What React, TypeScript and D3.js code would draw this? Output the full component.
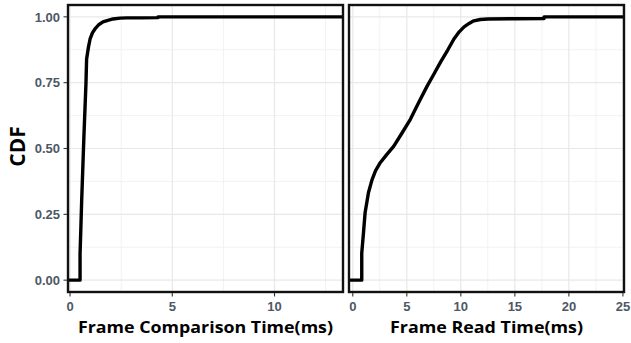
import React, { useEffect, useRef } from 'react';
import * as d3 from 'd3';

// ECDF of frame comparison time (ms)
const cmpTime = [-1, 0.49, 0.49, 0.53, 0.57, 0.68, 0.78, 0.81, 0.9, 0.98, 1.1, 1.22, 1.4, 1.61, 1.85, 2.1, 2.45, 2.78, 3.5, 4.3, 4.3, 14];
const cmpCdf = [0, 0, 0.1, 0.2, 0.305, 0.55, 0.75, 0.84, 0.885, 0.916, 0.94, 0.954, 0.97, 0.981, 0.987, 0.992, 0.995, 0.996, 0.996, 0.997, 1.0, 1.0];

// ECDF of frame read time (ms)
const readTime = [-1, 0.83, 0.83, 0.99, 1.14, 1.45, 1.77, 2.1, 2.54, 3.1, 3.78, 4.5, 5.33, 6.1, 6.88, 7.5, 8.12, 8.8, 9.36, 9.85, 10.3, 10.8, 11.2, 11.8, 12.5, 15, 17.7, 17.7, 26];
const readCdf = [0, 0, 0.103, 0.18, 0.256, 0.332, 0.38, 0.415, 0.446, 0.475, 0.508, 0.555, 0.611, 0.675, 0.737, 0.782, 0.828, 0.875, 0.916, 0.943, 0.962, 0.976, 0.985, 0.99, 0.992, 0.993, 0.994, 1.0, 1.0];

const yTicks = [0, 0.25, 0.5, 0.75, 1];
const yTickLabels = ['0.00', '0.25', '0.50', '0.75', '1.00'];
const cmpTicks = [0, 5, 10];
const readTicks = [0, 5, 10, 15, 20, 25];

const panels = [
  { id: 'cmp', xs: cmpTime, ys: cmpCdf, domain: [-0.1, 13.35], left: 68, right: 343, ticks: cmpTicks, minor: [2.5, 7.5, 12.5], title: 'Frame Comparison Time(ms)', titleW: 255 },
  { id: 'read', xs: readTime, ys: readCdf, domain: [-0.35, 25.1], left: 349, right: 624, ticks: readTicks, minor: [2.5, 7.5, 12.5, 17.5, 22.5], title: 'Frame Read Time(ms)', titleW: 193 },
];

const App = () => {
  const svgRef = useRef<SVGSVGElement>(null);

  useEffect(() => {
    const svg = d3.select(svgRef.current).html('');
    const top = 5, bottom = 292;
    const y = d3.scaleLinear().domain([-0.045, 1.045]).range([bottom, top]);
    const yMinor = [0.125, 0.375, 0.625, 0.875];

    panels.forEach((p, pi) => {
      const x = d3.scaleLinear().domain(p.domain).range([p.left, p.right]);
      const g = svg.append('g');

      g.append('clipPath').attr('id', 'clip-' + p.id)
        .append('rect').attr('x', p.left).attr('y', top)
        .attr('width', p.right - p.left).attr('height', bottom - top);

      g.append('rect').attr('x', p.left).attr('y', top)
        .attr('width', p.right - p.left).attr('height', bottom - top).attr('fill', '#fff');

      // grid
      g.selectAll('.ymin').data(yMinor).enter().append('line')
        .attr('x1', p.left).attr('x2', p.right)
        .attr('y1', d => y(d)).attr('y2', d => y(d))
        .attr('stroke', '#f2f2f2').attr('stroke-width', 1);
      g.selectAll('.xmin').data(p.minor).enter().append('line')
        .attr('x1', d => x(d)).attr('x2', d => x(d))
        .attr('y1', top).attr('y2', bottom)
        .attr('stroke', '#f2f2f2').attr('stroke-width', 1);
      g.selectAll('.ymaj').data(yTicks).enter().append('line')
        .attr('x1', p.left).attr('x2', p.right)
        .attr('y1', d => y(d)).attr('y2', d => y(d))
        .attr('stroke', '#e8e8e8').attr('stroke-width', 1.2);
      g.selectAll('.xmaj').data(p.ticks).enter().append('line')
        .attr('x1', d => x(d)).attr('x2', d => x(d))
        .attr('y1', top).attr('y2', bottom)
        .attr('stroke', '#e8e8e8').attr('stroke-width', 1.2);

      const line = d3.line<number>()
        .x((d, i) => x(p.xs[i]))
        .y(d => y(d));
      g.append('path')
        .attr('clip-path', `url(#clip-${p.id})`)
        .attr('d', line(p.ys))
        .attr('fill', 'none')
        .attr('stroke', '#000')
        .attr('stroke-width', 3.4)
        .attr('stroke-linejoin', 'round');

      g.append('rect').attr('x', p.left).attr('y', top)
        .attr('width', p.right - p.left).attr('height', bottom - top)
        .attr('fill', 'none').attr('stroke', '#111').attr('stroke-width', 2.4);

      // x axis
      const xa = g.selectAll('.xt').data(p.ticks).enter().append('g');
      xa.append('line')
        .attr('x1', d => x(d)).attr('x2', d => x(d))
        .attr('y1', bottom + 1).attr('y2', bottom + 4.5)
        .attr('stroke', '#333').attr('stroke-width', 1.1);
      xa.append('text')
        .attr('x', d => x(d)).attr('y', 311)
        .attr('text-anchor', 'middle')
        .style('font-family', '"Liberation Sans", Arial, sans-serif')
        .style('font-weight', 'bold').style('font-size', '13px')
        .attr('fill', '#4d5866')
        .text(d => d);

      g.append('text')
        .attr('x', (p.left + p.right) / 2).attr('y', 333)
        .attr('text-anchor', 'middle')
        .attr('textLength', p.titleW)
        .attr('lengthAdjust', 'spacingAndGlyphs')
        .style('font-family', '"Open Sans", "Noto Sans", sans-serif')
        .style('font-weight', 'bold').style('font-size', '16.5px')
        .attr('fill', '#000')
        .text(p.title);

      if (pi === 0) {
        const ya = g.selectAll('.yt').data(yTicks).enter().append('g');
        ya.append('line')
          .attr('x1', p.left - 4.5).attr('x2', p.left - 1)
          .attr('y1', d => y(d)).attr('y2', d => y(d))
          .attr('stroke', '#333').attr('stroke-width', 1.1);
        ya.append('text')
          .attr('x', p.left - 8).attr('y', d => y(d)).attr('dy', '0.36em')
          .attr('text-anchor', 'end')
          .style('font-family', '"Liberation Sans", Arial, sans-serif')
          .style('font-weight', 'bold').style('font-size', '13px')
          .attr('fill', '#4d5866')
          .text((d, i) => yTickLabels[i]);
      }
    });

    svg.append('text')
      .attr('transform', 'translate(25,146.5) rotate(-90)')
      .attr('text-anchor', 'middle')
      .style('font-family', '"Open Sans", "Noto Sans", sans-serif')
      .style('font-weight', 'bold').style('font-size', '21px')
      .attr('fill', '#000')
      .text('CDF');
  }, []);

  return (
    <svg ref={svgRef} width={631} height={343}
      style={{ position: 'absolute', left: 0, top: 0, background: '#fff' }} />
  );
};

export default App;
